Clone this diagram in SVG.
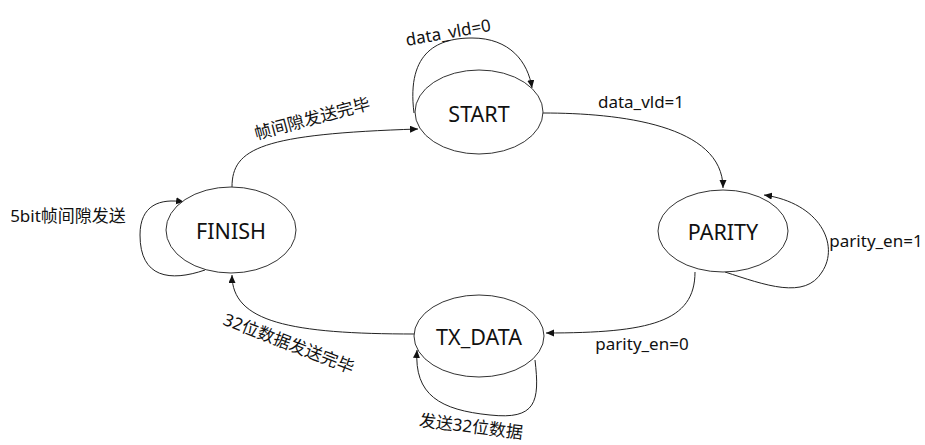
<svg xmlns="http://www.w3.org/2000/svg" width="925" height="445" viewBox="0 0 925 445">
<style>
.node ellipse{fill:#fff;stroke:#333;stroke-width:1}
.node text{font-family:"Noto Sans","Noto Sans CJK SC",sans-serif;font-size:21.5px;fill:#111;text-anchor:middle;dominant-baseline:central}
.edge{fill:none;stroke:#222;stroke-width:1;marker-end:url(#arr)}
.lbl{font-family:"Noto Sans","Noto Sans CJK SC",sans-serif;font-size:17px;fill:#111;text-anchor:middle;dominant-baseline:central}
</style>
<defs>
<marker id="arr" markerWidth="9" markerHeight="8" refX="8" refY="3.5" orient="auto" markerUnits="userSpaceOnUse">
<path d="M0,0 L8,3.5 L0,7 Z" fill="#111"/>
</marker>
</defs>
<rect width="925" height="445" fill="#fff"/>
<g id="connectors">
<path class="edge" d="M414,113 C406,50 440,38 472,38 C510,38 528,62 532,88"/>
<path class="edge" d="M232,187 C232,148 262,134 418,129"/>
<path class="edge" d="M543,113 C620,113 723,125 723,188"/>
<path class="edge" d="M725,272 C765,285 805,300 822,272 C840,245 820,203 764,195"/>
<path class="edge" d="M695,272 C695,322 650,333 546,333"/>
<path class="edge" d="M415,334 C290,334 232,322 232,275"/>
<path class="edge" d="M535,360 C540,402 536,420 490,415 C440,410 414,395 417,350"/>
<path class="edge" d="M205,270 C170,282 140,278 140,235 C140,205 160,198 184,202"/>
</g>
<g id="START" class="node"><ellipse cx="479" cy="112" rx="64" ry="42"/><text x="479" y="113">START</text></g>
<g id="PARITY" class="node"><ellipse cx="723" cy="231" rx="65" ry="41"/><text x="723" y="231">PARITY</text></g>
<g id="FINISH" class="node"><ellipse cx="231" cy="230" rx="65" ry="43"/><text x="231" y="230">FINISH</text></g>
<g id="TX_DATA" class="node"><ellipse cx="479" cy="336" rx="65" ry="41"/><text x="479" y="336">TX_DATA</text></g>
<g id="labels">
<text class="lbl" transform="translate(448,32) rotate(-10)">data_vld=0</text>
<text class="lbl" transform="translate(312,118) rotate(-15)">帧间隙发送完毕</text>
<text class="lbl" x="641" y="101">data_vld=1</text>
<text class="lbl" x="876" y="240">parity_en=1</text>
<text class="lbl" x="642" y="343">parity_en=0</text>
<text class="lbl" transform="translate(289,343) rotate(21)">32位数据发送完毕</text>
<text class="lbl" transform="translate(471,426) rotate(7)">发送32位数据</text>
<text class="lbl" x="68" y="215">5bit帧间隙发送</text>
</g>
</svg>
